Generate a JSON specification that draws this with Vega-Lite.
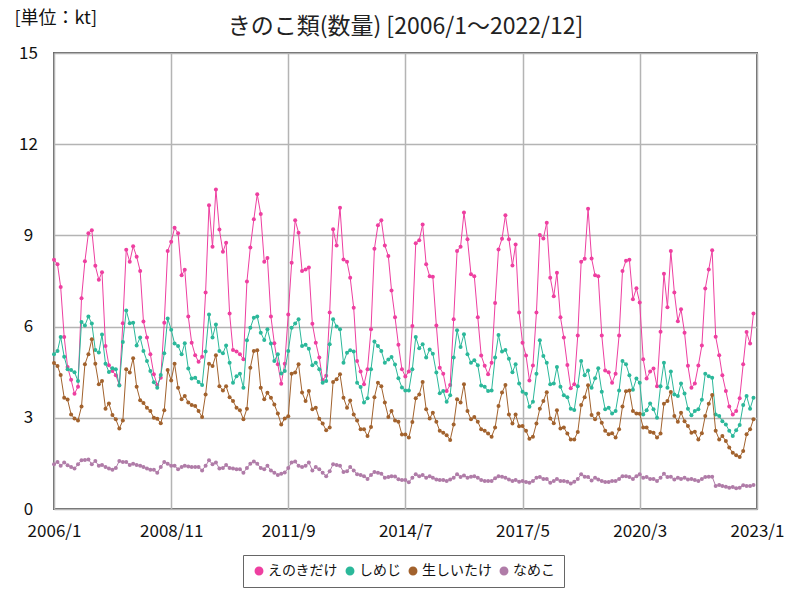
{
"$schema": "https://vega.github.io/schema/vega-lite/v6.json",
"width": 703, "height": 456,
"autosize": "none",
"padding": {"left": 54, "top": 53, "right": 43, "bottom": 91},
"background": "white",
"config": {
 "font": "Liberation Sans Narrow, Noto Sans CJK JP, sans-serif",
 "view": {"stroke": "#666666", "strokeWidth": 2},
 "axis": {"domain": false, "ticks": false, "grid": true, "gridColor": "#b4b4b4", "gridWidth": 1.5, "labelColor": "#111111", "labelFontSize": 17}
},
"title": {"text": "きのこ類(数量) [2006/1～2022/12]", "fontSize": 23, "fontWeight": "normal", "anchor": "middle", "offset": -30, "color": "#222222"},
"datasets": {
"e": [
{"m":"2006-01","v":8.2},{"m":"2006-02","v":8.05},{"m":"2006-03","v":7.3},{"m":"2006-04","v":5.66},{"m":"2006-05","v":4.67},{"m":"2006-06","v":4.25},{"m":"2006-07","v":3.79},{"m":"2006-08","v":4.02},{"m":"2006-09","v":6.93},{"m":"2006-10","v":8.15},{"m":"2006-11","v":9.07},{"m":"2006-12","v":9.17},
{"m":"2007-01","v":8.0},{"m":"2007-02","v":7.54},{"m":"2007-03","v":7.79},{"m":"2007-04","v":5.36},{"m":"2007-05","v":4.73},{"m":"2007-06","v":4.54},{"m":"2007-07","v":4.4},{"m":"2007-08","v":4.08},{"m":"2007-09","v":6.11},{"m":"2007-10","v":8.53},{"m":"2007-11","v":8.13},{"m":"2007-12","v":8.64},
{"m":"2008-01","v":8.3},{"m":"2008-02","v":7.83},{"m":"2008-03","v":6.17},{"m":"2008-04","v":5.64},{"m":"2008-05","v":5.09},{"m":"2008-06","v":4.43},{"m":"2008-07","v":4.08},{"m":"2008-08","v":4.32},{"m":"2008-09","v":6.13},{"m":"2008-10","v":8.49},{"m":"2008-11","v":8.79},{"m":"2008-12","v":9.25},
{"m":"2009-01","v":9.07},{"m":"2009-02","v":7.69},{"m":"2009-03","v":7.87},{"m":"2009-04","v":6.33},{"m":"2009-05","v":5.47},{"m":"2009-06","v":5.06},{"m":"2009-07","v":4.84},{"m":"2009-08","v":5.01},{"m":"2009-09","v":7.12},{"m":"2009-10","v":9.99},{"m":"2009-11","v":8.63},{"m":"2009-12","v":10.51},
{"m":"2010-01","v":9.19},{"m":"2010-02","v":8.46},{"m":"2010-03","v":8.76},{"m":"2010-04","v":6.43},{"m":"2010-05","v":5.23},{"m":"2010-06","v":5.18},{"m":"2010-07","v":5.09},{"m":"2010-08","v":4.93},{"m":"2010-09","v":7.48},{"m":"2010-10","v":8.6},{"m":"2010-11","v":9.53},{"m":"2010-12","v":10.35},
{"m":"2011-01","v":9.7},{"m":"2011-02","v":8.13},{"m":"2011-03","v":8.26},{"m":"2011-04","v":6.33},{"m":"2011-05","v":5.45},{"m":"2011-06","v":4.76},{"m":"2011-07","v":4.12},{"m":"2011-08","v":4.78},{"m":"2011-09","v":6.4},{"m":"2011-10","v":8.1},{"m":"2011-11","v":9.5},{"m":"2011-12","v":9.09},
{"m":"2012-01","v":7.83},{"m":"2012-02","v":7.88},{"m":"2012-03","v":7.94},{"m":"2012-04","v":6.09},{"m":"2012-05","v":5.47},{"m":"2012-06","v":4.98},{"m":"2012-07","v":4.24},{"m":"2012-08","v":4.38},{"m":"2012-09","v":6.46},{"m":"2012-10","v":9.2},{"m":"2012-11","v":8.67},{"m":"2012-12","v":9.91},
{"m":"2013-01","v":8.21},{"m":"2013-02","v":8.13},{"m":"2013-03","v":7.61},{"m":"2013-04","v":6.62},{"m":"2013-05","v":4.87},{"m":"2013-06","v":4.52},{"m":"2013-07","v":4.1},{"m":"2013-08","v":4.6},{"m":"2013-09","v":5.91},{"m":"2013-10","v":8.56},{"m":"2013-11","v":9.33},{"m":"2013-12","v":9.5},
{"m":"2014-01","v":8.67},{"m":"2014-02","v":8.32},{"m":"2014-03","v":7.19},{"m":"2014-04","v":6.31},{"m":"2014-05","v":5.4},{"m":"2014-06","v":4.6},{"m":"2014-07","v":4.36},{"m":"2014-08","v":4.52},{"m":"2014-09","v":6.02},{"m":"2014-10","v":8.74},{"m":"2014-11","v":8.84},{"m":"2014-12","v":9.36},
{"m":"2015-01","v":8.05},{"m":"2015-02","v":7.66},{"m":"2015-03","v":7.64},{"m":"2015-04","v":6.04},{"m":"2015-05","v":4.65},{"m":"2015-06","v":4.45},{"m":"2015-07","v":3.88},{"m":"2015-08","v":4.08},{"m":"2015-09","v":6.24},{"m":"2015-10","v":8.49},{"m":"2015-11","v":8.63},{"m":"2015-12","v":9.75},
{"m":"2016-01","v":8.87},{"m":"2016-02","v":7.72},{"m":"2016-03","v":7.66},{"m":"2016-04","v":6.31},{"m":"2016-05","v":5.05},{"m":"2016-06","v":4.71},{"m":"2016-07","v":4.43},{"m":"2016-08","v":4.81},{"m":"2016-09","v":6.78},{"m":"2016-10","v":8.54},{"m":"2016-11","v":8.89},{"m":"2016-12","v":9.66},
{"m":"2017-01","v":8.87},{"m":"2017-02","v":8.01},{"m":"2017-03","v":8.7},{"m":"2017-04","v":6.46},{"m":"2017-05","v":5.47},{"m":"2017-06","v":5.05},{"m":"2017-07","v":4.23},{"m":"2017-08","v":4.72},{"m":"2017-09","v":6.46},{"m":"2017-10","v":9.01},{"m":"2017-11","v":8.9},{"m":"2017-12","v":9.42},
{"m":"2018-01","v":7.61},{"m":"2018-02","v":7.0},{"m":"2018-03","v":7.77},{"m":"2018-04","v":6.31},{"m":"2018-05","v":5.64},{"m":"2018-06","v":4.74},{"m":"2018-07","v":3.97},{"m":"2018-08","v":4.1},{"m":"2018-09","v":5.71},{"m":"2018-10","v":8.13},{"m":"2018-11","v":8.23},{"m":"2018-12","v":9.88},
{"m":"2019-01","v":8.24},{"m":"2019-02","v":7.69},{"m":"2019-03","v":7.66},{"m":"2019-04","v":5.71},{"m":"2019-05","v":4.56},{"m":"2019-06","v":4.5},{"m":"2019-07","v":4.15},{"m":"2019-08","v":4.45},{"m":"2019-09","v":5.71},{"m":"2019-10","v":7.83},{"m":"2019-11","v":8.17},{"m":"2019-12","v":8.2},
{"m":"2020-01","v":6.9},{"m":"2020-02","v":7.26},{"m":"2020-03","v":6.79},{"m":"2020-04","v":4.93},{"m":"2020-05","v":4.29},{"m":"2020-06","v":4.52},{"m":"2020-07","v":4.62},{"m":"2020-08","v":4.04},{"m":"2020-09","v":5.83},{"m":"2020-10","v":7.74},{"m":"2020-11","v":6.64},{"m":"2020-12","v":8.49},
{"m":"2021-01","v":7.12},{"m":"2021-02","v":6.18},{"m":"2021-03","v":6.57},{"m":"2021-04","v":5.8},{"m":"2021-05","v":4.71},{"m":"2021-06","v":3.99},{"m":"2021-07","v":4.13},{"m":"2021-08","v":4.72},{"m":"2021-09","v":5.38},{"m":"2021-10","v":7.25},{"m":"2021-11","v":7.88},{"m":"2021-12","v":8.51},
{"m":"2022-01","v":5.67},{"m":"2022-02","v":5.06},{"m":"2022-03","v":4.4},{"m":"2022-04","v":3.88},{"m":"2022-05","v":3.37},{"m":"2022-06","v":3.11},{"m":"2022-07","v":3.22},{"m":"2022-08","v":3.64},{"m":"2022-09","v":4.76},{"m":"2022-10","v":5.82},{"m":"2022-11","v":5.44},{"m":"2022-12","v":6.43}
],
"s": [
{"m":"2006-01","v":5.09},{"m":"2006-02","v":5.2},{"m":"2006-03","v":5.66},{"m":"2006-04","v":5.01},{"m":"2006-05","v":4.6},{"m":"2006-06","v":4.57},{"m":"2006-07","v":4.5},{"m":"2006-08","v":4.21},{"m":"2006-09","v":6.15},{"m":"2006-10","v":6.04},{"m":"2006-11","v":6.33},{"m":"2006-12","v":6.1},
{"m":"2007-01","v":5.23},{"m":"2007-02","v":5.15},{"m":"2007-03","v":5.74},{"m":"2007-04","v":4.78},{"m":"2007-05","v":4.51},{"m":"2007-06","v":4.63},{"m":"2007-07","v":4.6},{"m":"2007-08","v":4.06},{"m":"2007-09","v":5.49},{"m":"2007-10","v":6.53},{"m":"2007-11","v":6.11},{"m":"2007-12","v":6.13},
{"m":"2008-01","v":5.38},{"m":"2008-02","v":5.64},{"m":"2008-03","v":5.2},{"m":"2008-04","v":4.87},{"m":"2008-05","v":4.54},{"m":"2008-06","v":4.17},{"m":"2008-07","v":3.99},{"m":"2008-08","v":4.41},{"m":"2008-09","v":5.12},{"m":"2008-10","v":6.27},{"m":"2008-11","v":5.9},{"m":"2008-12","v":5.44},
{"m":"2009-01","v":5.36},{"m":"2009-02","v":5.09},{"m":"2009-03","v":5.45},{"m":"2009-04","v":4.62},{"m":"2009-05","v":4.29},{"m":"2009-06","v":4.32},{"m":"2009-07","v":4.18},{"m":"2009-08","v":4.08},{"m":"2009-09","v":5.18},{"m":"2009-10","v":6.4},{"m":"2009-11","v":5.64},{"m":"2009-12","v":6.07},
{"m":"2010-01","v":5.2},{"m":"2010-02","v":5.12},{"m":"2010-03","v":5.38},{"m":"2010-04","v":4.81},{"m":"2010-05","v":4.15},{"m":"2010-06","v":4.37},{"m":"2010-07","v":4.45},{"m":"2010-08","v":3.99},{"m":"2010-09","v":5.55},{"m":"2010-10","v":5.96},{"m":"2010-11","v":6.29},{"m":"2010-12","v":6.33},
{"m":"2011-01","v":5.8},{"m":"2011-02","v":5.56},{"m":"2011-03","v":5.91},{"m":"2011-04","v":5.44},{"m":"2011-05","v":4.87},{"m":"2011-06","v":5.09},{"m":"2011-07","v":4.46},{"m":"2011-08","v":4.54},{"m":"2011-09","v":5.2},{"m":"2011-10","v":5.96},{"m":"2011-11","v":6.1},{"m":"2011-12","v":6.24},
{"m":"2012-01","v":5.36},{"m":"2012-02","v":5.4},{"m":"2012-03","v":5.27},{"m":"2012-04","v":4.73},{"m":"2012-05","v":4.81},{"m":"2012-06","v":4.6},{"m":"2012-07","v":4.15},{"m":"2012-08","v":4.21},{"m":"2012-09","v":5.42},{"m":"2012-10","v":6.24},{"m":"2012-11","v":6.0},{"m":"2012-12","v":5.91},
{"m":"2013-01","v":4.81},{"m":"2013-02","v":5.14},{"m":"2013-03","v":5.22},{"m":"2013-04","v":5.18},{"m":"2013-05","v":4.15},{"m":"2013-06","v":4.01},{"m":"2013-07","v":3.5},{"m":"2013-08","v":3.64},{"m":"2013-09","v":4.6},{"m":"2013-10","v":5.51},{"m":"2013-11","v":5.36},{"m":"2013-12","v":5.2},
{"m":"2014-01","v":4.81},{"m":"2014-02","v":4.92},{"m":"2014-03","v":5.0},{"m":"2014-04","v":4.75},{"m":"2014-05","v":4.3},{"m":"2014-06","v":4.0},{"m":"2014-07","v":3.9},{"m":"2014-08","v":3.9},{"m":"2014-09","v":4.6},{"m":"2014-10","v":5.66},{"m":"2014-11","v":5.29},{"m":"2014-12","v":5.42},
{"m":"2015-01","v":4.98},{"m":"2015-02","v":5.25},{"m":"2015-03","v":5.11},{"m":"2015-04","v":4.49},{"m":"2015-05","v":3.81},{"m":"2015-06","v":3.88},{"m":"2015-07","v":3.53},{"m":"2015-08","v":3.74},{"m":"2015-09","v":4.98},{"m":"2015-10","v":5.88},{"m":"2015-11","v":5.33},{"m":"2015-12","v":5.75},
{"m":"2016-01","v":5.09},{"m":"2016-02","v":4.81},{"m":"2016-03","v":4.89},{"m":"2016-04","v":4.73},{"m":"2016-05","v":4.06},{"m":"2016-06","v":4.02},{"m":"2016-07","v":3.88},{"m":"2016-08","v":3.9},{"m":"2016-09","v":4.98},{"m":"2016-10","v":5.72},{"m":"2016-11","v":5.18},{"m":"2016-12","v":5.23},
{"m":"2017-01","v":4.94},{"m":"2017-02","v":4.5},{"m":"2017-03","v":4.76},{"m":"2017-04","v":4.13},{"m":"2017-05","v":3.86},{"m":"2017-06","v":3.79},{"m":"2017-07","v":3.36},{"m":"2017-08","v":3.53},{"m":"2017-09","v":4.45},{"m":"2017-10","v":5.55},{"m":"2017-11","v":5.03},{"m":"2017-12","v":4.81},
{"m":"2018-01","v":4.1},{"m":"2018-02","v":4.13},{"m":"2018-03","v":4.67},{"m":"2018-04","v":4.02},{"m":"2018-05","v":3.74},{"m":"2018-06","v":3.68},{"m":"2018-07","v":3.3},{"m":"2018-08","v":3.26},{"m":"2018-09","v":4.04},{"m":"2018-10","v":4.87},{"m":"2018-11","v":4.4},{"m":"2018-12","v":4.56},
{"m":"2019-01","v":3.99},{"m":"2019-02","v":4.3},{"m":"2019-03","v":4.63},{"m":"2019-04","v":3.86},{"m":"2019-05","v":3.28},{"m":"2019-06","v":3.33},{"m":"2019-07","v":3.14},{"m":"2019-08","v":3.22},{"m":"2019-09","v":3.9},{"m":"2019-10","v":4.87},{"m":"2019-11","v":4.76},{"m":"2019-12","v":4.4},
{"m":"2020-01","v":3.92},{"m":"2020-02","v":4.29},{"m":"2020-03","v":4.15},{"m":"2020-04","v":3.11},{"m":"2020-05","v":3.25},{"m":"2020-06","v":3.47},{"m":"2020-07","v":3.28},{"m":"2020-08","v":3.0},{"m":"2020-09","v":4.04},{"m":"2020-10","v":4.81},{"m":"2020-11","v":3.99},{"m":"2020-12","v":4.52},
{"m":"2021-01","v":3.77},{"m":"2021-02","v":3.72},{"m":"2021-03","v":4.13},{"m":"2021-04","v":3.8},{"m":"2021-05","v":3.3},{"m":"2021-06","v":3.08},{"m":"2021-07","v":3.22},{"m":"2021-08","v":3.28},{"m":"2021-09","v":3.59},{"m":"2021-10","v":4.45},{"m":"2021-11","v":4.37},{"m":"2021-12","v":4.32},
{"m":"2022-01","v":3.11},{"m":"2022-02","v":3.06},{"m":"2022-03","v":2.89},{"m":"2022-04","v":2.78},{"m":"2022-05","v":2.57},{"m":"2022-06","v":2.4},{"m":"2022-07","v":2.59},{"m":"2022-08","v":2.76},{"m":"2022-09","v":3.42},{"m":"2022-10","v":3.72},{"m":"2022-11","v":3.3},{"m":"2022-12","v":3.66}
],
"b": [
{"m":"2006-01","v":4.8},{"m":"2006-02","v":4.7},{"m":"2006-03","v":4.41},{"m":"2006-04","v":3.66},{"m":"2006-05","v":3.6},{"m":"2006-06","v":3.11},{"m":"2006-07","v":2.98},{"m":"2006-08","v":2.91},{"m":"2006-09","v":3.37},{"m":"2006-10","v":4.76},{"m":"2006-11","v":5.09},{"m":"2006-12","v":5.58},
{"m":"2007-01","v":4.78},{"m":"2007-02","v":4.1},{"m":"2007-03","v":4.21},{"m":"2007-04","v":3.3},{"m":"2007-05","v":3.47},{"m":"2007-06","v":3.09},{"m":"2007-07","v":2.95},{"m":"2007-08","v":2.65},{"m":"2007-09","v":2.91},{"m":"2007-10","v":4.6},{"m":"2007-11","v":4.49},{"m":"2007-12","v":4.96},
{"m":"2008-01","v":4.02},{"m":"2008-02","v":3.58},{"m":"2008-03","v":3.49},{"m":"2008-04","v":3.33},{"m":"2008-05","v":3.22},{"m":"2008-06","v":3.0},{"m":"2008-07","v":2.97},{"m":"2008-08","v":2.82},{"m":"2008-09","v":3.25},{"m":"2008-10","v":4.57},{"m":"2008-11","v":4.23},{"m":"2008-12","v":4.78},
{"m":"2009-01","v":3.99},{"m":"2009-02","v":3.61},{"m":"2009-03","v":3.72},{"m":"2009-04","v":3.5},{"m":"2009-05","v":3.42},{"m":"2009-06","v":3.39},{"m":"2009-07","v":3.22},{"m":"2009-08","v":3.03},{"m":"2009-09","v":3.77},{"m":"2009-10","v":4.78},{"m":"2009-11","v":4.7},{"m":"2009-12","v":5.06},
{"m":"2010-01","v":4.04},{"m":"2010-02","v":3.9},{"m":"2010-03","v":4.04},{"m":"2010-04","v":3.68},{"m":"2010-05","v":3.55},{"m":"2010-06","v":3.33},{"m":"2010-07","v":3.25},{"m":"2010-08","v":2.95},{"m":"2010-09","v":3.3},{"m":"2010-10","v":4.65},{"m":"2010-11","v":5.2},{"m":"2010-12","v":5.22},
{"m":"2011-01","v":3.99},{"m":"2011-02","v":3.61},{"m":"2011-03","v":3.82},{"m":"2011-04","v":3.66},{"m":"2011-05","v":3.44},{"m":"2011-06","v":3.14},{"m":"2011-07","v":2.78},{"m":"2011-08","v":2.98},{"m":"2011-09","v":3.05},{"m":"2011-10","v":4.45},{"m":"2011-11","v":4.49},{"m":"2011-12","v":4.76},
{"m":"2012-01","v":3.83},{"m":"2012-02","v":3.55},{"m":"2012-03","v":3.88},{"m":"2012-04","v":3.28},{"m":"2012-05","v":3.33},{"m":"2012-06","v":2.97},{"m":"2012-07","v":2.81},{"m":"2012-08","v":2.59},{"m":"2012-09","v":2.68},{"m":"2012-10","v":4.18},{"m":"2012-11","v":4.27},{"m":"2012-12","v":4.43},
{"m":"2013-01","v":3.66},{"m":"2013-02","v":3.33},{"m":"2013-03","v":3.57},{"m":"2013-04","v":3.11},{"m":"2013-05","v":2.91},{"m":"2013-06","v":2.62},{"m":"2013-07","v":2.62},{"m":"2013-08","v":2.4},{"m":"2013-09","v":2.7},{"m":"2013-10","v":3.68},{"m":"2013-11","v":4.15},{"m":"2013-12","v":4.04},
{"m":"2014-01","v":3.5},{"m":"2014-02","v":3.03},{"m":"2014-03","v":3.22},{"m":"2014-04","v":2.91},{"m":"2014-05","v":2.87},{"m":"2014-06","v":2.45},{"m":"2014-07","v":2.45},{"m":"2014-08","v":2.35},{"m":"2014-09","v":2.86},{"m":"2014-10","v":3.64},{"m":"2014-11","v":3.77},{"m":"2014-12","v":4.18},
{"m":"2015-01","v":3.28},{"m":"2015-02","v":2.98},{"m":"2015-03","v":3.17},{"m":"2015-04","v":2.87},{"m":"2015-05","v":2.57},{"m":"2015-06","v":2.51},{"m":"2015-07","v":2.43},{"m":"2015-08","v":2.27},{"m":"2015-09","v":2.78},{"m":"2015-10","v":3.61},{"m":"2015-11","v":3.5},{"m":"2015-12","v":4.1},
{"m":"2016-01","v":3.22},{"m":"2016-02","v":2.95},{"m":"2016-03","v":3.03},{"m":"2016-04","v":2.87},{"m":"2016-05","v":2.62},{"m":"2016-06","v":2.57},{"m":"2016-07","v":2.48},{"m":"2016-08","v":2.38},{"m":"2016-09","v":2.68},{"m":"2016-10","v":3.39},{"m":"2016-11","v":3.83},{"m":"2016-12","v":4.08},
{"m":"2017-01","v":3.11},{"m":"2017-02","v":2.81},{"m":"2017-03","v":3.11},{"m":"2017-04","v":2.72},{"m":"2017-05","v":2.73},{"m":"2017-06","v":2.57},{"m":"2017-07","v":2.31},{"m":"2017-08","v":2.38},{"m":"2017-09","v":2.81},{"m":"2017-10","v":3.3},{"m":"2017-11","v":3.55},{"m":"2017-12","v":3.84},
{"m":"2018-01","v":2.98},{"m":"2018-02","v":2.82},{"m":"2018-03","v":3.25},{"m":"2018-04","v":2.65},{"m":"2018-05","v":2.68},{"m":"2018-06","v":2.48},{"m":"2018-07","v":2.29},{"m":"2018-08","v":2.29},{"m":"2018-09","v":2.53},{"m":"2018-10","v":3.42},{"m":"2018-11","v":3.68},{"m":"2018-12","v":4.07},
{"m":"2019-01","v":3.09},{"m":"2019-02","v":2.95},{"m":"2019-03","v":3.14},{"m":"2019-04","v":2.84},{"m":"2019-05","v":2.57},{"m":"2019-06","v":2.46},{"m":"2019-07","v":2.49},{"m":"2019-08","v":2.35},{"m":"2019-09","v":2.62},{"m":"2019-10","v":3.37},{"m":"2019-11","v":3.87},{"m":"2019-12","v":3.9},
{"m":"2020-01","v":3.22},{"m":"2020-02","v":3.14},{"m":"2020-03","v":3.13},{"m":"2020-04","v":2.68},{"m":"2020-05","v":2.68},{"m":"2020-06","v":2.53},{"m":"2020-07","v":2.51},{"m":"2020-08","v":2.35},{"m":"2020-09","v":2.48},{"m":"2020-10","v":3.46},{"m":"2020-11","v":3.55},{"m":"2020-12","v":3.85},
{"m":"2021-01","v":3.06},{"m":"2021-02","v":2.87},{"m":"2021-03","v":3.17},{"m":"2021-04","v":2.89},{"m":"2021-05","v":2.73},{"m":"2021-06","v":2.51},{"m":"2021-07","v":2.54},{"m":"2021-08","v":2.29},{"m":"2021-09","v":2.49},{"m":"2021-10","v":3.06},{"m":"2021-11","v":3.46},{"m":"2021-12","v":3.75},
{"m":"2022-01","v":2.57},{"m":"2022-02","v":2.29},{"m":"2022-03","v":2.4},{"m":"2022-04","v":2.24},{"m":"2022-05","v":2.02},{"m":"2022-06","v":1.85},{"m":"2022-07","v":1.77},{"m":"2022-08","v":1.71},{"m":"2022-09","v":1.91},{"m":"2022-10","v":2.46},{"m":"2022-11","v":2.62},{"m":"2022-12","v":2.95}
],
"n": [
{"m":"2006-01","v":1.47},{"m":"2006-02","v":1.55},{"m":"2006-03","v":1.42},{"m":"2006-04","v":1.53},{"m":"2006-05","v":1.44},{"m":"2006-06","v":1.38},{"m":"2006-07","v":1.33},{"m":"2006-08","v":1.47},{"m":"2006-09","v":1.6},{"m":"2006-10","v":1.61},{"m":"2006-11","v":1.63},{"m":"2006-12","v":1.47},
{"m":"2007-01","v":1.58},{"m":"2007-02","v":1.42},{"m":"2007-03","v":1.45},{"m":"2007-04","v":1.38},{"m":"2007-05","v":1.33},{"m":"2007-06","v":1.29},{"m":"2007-07","v":1.35},{"m":"2007-08","v":1.58},{"m":"2007-09","v":1.55},{"m":"2007-10","v":1.55},{"m":"2007-11","v":1.45},{"m":"2007-12","v":1.49},
{"m":"2008-01","v":1.45},{"m":"2008-02","v":1.42},{"m":"2008-03","v":1.38},{"m":"2008-04","v":1.33},{"m":"2008-05","v":1.29},{"m":"2008-06","v":1.29},{"m":"2008-07","v":1.19},{"m":"2008-08","v":1.38},{"m":"2008-09","v":1.55},{"m":"2008-10","v":1.49},{"m":"2008-11","v":1.42},{"m":"2008-12","v":1.42},
{"m":"2009-01","v":1.31},{"m":"2009-02","v":1.38},{"m":"2009-03","v":1.42},{"m":"2009-04","v":1.4},{"m":"2009-05","v":1.38},{"m":"2009-06","v":1.38},{"m":"2009-07","v":1.38},{"m":"2009-08","v":1.27},{"m":"2009-09","v":1.42},{"m":"2009-10","v":1.6},{"m":"2009-11","v":1.47},{"m":"2009-12","v":1.53},
{"m":"2010-01","v":1.33},{"m":"2010-02","v":1.35},{"m":"2010-03","v":1.45},{"m":"2010-04","v":1.35},{"m":"2010-05","v":1.33},{"m":"2010-06","v":1.31},{"m":"2010-07","v":1.31},{"m":"2010-08","v":1.19},{"m":"2010-09","v":1.35},{"m":"2010-10","v":1.49},{"m":"2010-11","v":1.56},{"m":"2010-12","v":1.49},
{"m":"2011-01","v":1.35},{"m":"2011-02","v":1.31},{"m":"2011-03","v":1.42},{"m":"2011-04","v":1.27},{"m":"2011-05","v":1.19},{"m":"2011-06","v":1.12},{"m":"2011-07","v":1.16},{"m":"2011-08","v":1.2},{"m":"2011-09","v":1.35},{"m":"2011-10","v":1.53},{"m":"2011-11","v":1.56},{"m":"2011-12","v":1.42},
{"m":"2012-01","v":1.38},{"m":"2012-02","v":1.42},{"m":"2012-03","v":1.53},{"m":"2012-04","v":1.27},{"m":"2012-05","v":1.38},{"m":"2012-06","v":1.31},{"m":"2012-07","v":1.19},{"m":"2012-08","v":1.08},{"m":"2012-09","v":1.24},{"m":"2012-10","v":1.47},{"m":"2012-11","v":1.45},{"m":"2012-12","v":1.42},
{"m":"2013-01","v":1.22},{"m":"2013-02","v":1.24},{"m":"2013-03","v":1.38},{"m":"2013-04","v":1.27},{"m":"2013-05","v":1.14},{"m":"2013-06","v":1.12},{"m":"2013-07","v":1.08},{"m":"2013-08","v":0.99},{"m":"2013-09","v":1.12},{"m":"2013-10","v":1.22},{"m":"2013-11","v":1.19},{"m":"2013-12","v":1.16},
{"m":"2014-01","v":1.03},{"m":"2014-02","v":1.05},{"m":"2014-03","v":1.08},{"m":"2014-04","v":1.07},{"m":"2014-05","v":0.98},{"m":"2014-06","v":0.95},{"m":"2014-07","v":0.95},{"m":"2014-08","v":0.88},{"m":"2014-09","v":1.03},{"m":"2014-10","v":1.14},{"m":"2014-11","v":1.08},{"m":"2014-12","v":1.12},
{"m":"2015-01","v":1.03},{"m":"2015-02","v":1.08},{"m":"2015-03","v":1.03},{"m":"2015-04","v":0.97},{"m":"2015-05","v":0.95},{"m":"2015-06","v":0.95},{"m":"2015-07","v":0.92},{"m":"2015-08","v":0.97},{"m":"2015-09","v":1.03},{"m":"2015-10","v":1.14},{"m":"2015-11","v":1.05},{"m":"2015-12","v":1.1},
{"m":"2016-01","v":1.03},{"m":"2016-02","v":1.06},{"m":"2016-03","v":1.08},{"m":"2016-04","v":1.03},{"m":"2016-05","v":0.95},{"m":"2016-06","v":0.92},{"m":"2016-07","v":0.92},{"m":"2016-08","v":0.92},{"m":"2016-09","v":1.01},{"m":"2016-10","v":1.08},{"m":"2016-11","v":1.06},{"m":"2016-12","v":1.03},
{"m":"2017-01","v":0.97},{"m":"2017-02","v":0.92},{"m":"2017-03","v":0.95},{"m":"2017-04","v":0.9},{"m":"2017-05","v":0.92},{"m":"2017-06","v":0.89},{"m":"2017-07","v":0.86},{"m":"2017-08","v":0.92},{"m":"2017-09","v":1.03},{"m":"2017-10","v":1.05},{"m":"2017-11","v":0.99},{"m":"2017-12","v":0.99},
{"m":"2018-01","v":0.86},{"m":"2018-02","v":0.92},{"m":"2018-03","v":0.99},{"m":"2018-04","v":0.92},{"m":"2018-05","v":0.92},{"m":"2018-06","v":0.9},{"m":"2018-07","v":0.84},{"m":"2018-08","v":0.9},{"m":"2018-09","v":0.99},{"m":"2018-10","v":1.14},{"m":"2018-11","v":1.06},{"m":"2018-12","v":1.05},
{"m":"2019-01","v":0.94},{"m":"2019-02","v":1.03},{"m":"2019-03","v":0.97},{"m":"2019-04","v":0.92},{"m":"2019-05","v":0.89},{"m":"2019-06","v":0.89},{"m":"2019-07","v":0.92},{"m":"2019-08","v":0.92},{"m":"2019-09","v":0.99},{"m":"2019-10","v":1.08},{"m":"2019-11","v":1.08},{"m":"2019-12","v":1.05},
{"m":"2020-01","v":0.99},{"m":"2020-02","v":1.08},{"m":"2020-03","v":1.14},{"m":"2020-04","v":1.03},{"m":"2020-05","v":1.05},{"m":"2020-06","v":0.99},{"m":"2020-07","v":0.99},{"m":"2020-08","v":0.92},{"m":"2020-09","v":1.03},{"m":"2020-10","v":1.16},{"m":"2020-11","v":1.05},{"m":"2020-12","v":1.06},
{"m":"2021-01","v":0.97},{"m":"2021-02","v":1.03},{"m":"2021-03","v":0.99},{"m":"2021-04","v":1.03},{"m":"2021-05","v":0.97},{"m":"2021-06","v":0.99},{"m":"2021-07","v":0.95},{"m":"2021-08","v":0.92},{"m":"2021-09","v":0.99},{"m":"2021-10","v":1.05},{"m":"2021-11","v":1.06},{"m":"2021-12","v":1.06},
{"m":"2022-01","v":0.76},{"m":"2022-02","v":0.79},{"m":"2022-03","v":0.76},{"m":"2022-04","v":0.73},{"m":"2022-05","v":0.7},{"m":"2022-06","v":0.72},{"m":"2022-07","v":0.68},{"m":"2022-08","v":0.7},{"m":"2022-09","v":0.78},{"m":"2022-10","v":0.76},{"m":"2022-11","v":0.76},{"m":"2022-12","v":0.79}
]
},
"encoding": {
 "x": {"field": "m", "type": "temporal",
  "scale": {"type": "utc", "domain": [{"year": 2006, "month": 1, "date": 1, "utc": true}, {"year": 2023, "month": 1, "date": 1, "utc": true}]},
  "axis": {"title": null, "values": [{"year": 2006, "month": 1, "date": 1, "utc": true}, {"year": 2008, "month": 11, "date": 1, "utc": true}, {"year": 2011, "month": 9, "date": 1, "utc": true}, {"year": 2014, "month": 7, "date": 1, "utc": true}, {"year": 2017, "month": 5, "date": 1, "utc": true}, {"year": 2020, "month": 3, "date": 1, "utc": true}, {"year": 2023, "month": 1, "date": 1, "utc": true}],
   "labelExpr": "utcFormat(datum.value, '%Y') + '/' + (utcmonth(datum.value) + 1)",
   "labelOverlap": false, "labelFlush": false, "labelBound": false, "labelPadding": 14}},
 "y": {"field": "v", "type": "quantitative",
  "scale": {"domain": [0, 15], "nice": false, "zero": true},
  "axis": {"values": [0, 3, 6, 9, 12, 15], "labelAlign": "center", "labelPadding": 26,
   "title": "[単位：kt]", "titleAngle": 0, "titleFontSize": 18, "titleFontWeight": "normal", "titleColor": "#111111", "titleAlign": "left", "titleBaseline": "middle", "titleX": -40, "titleY": -35}}
},
"layer": [
 {"data": {"name": "e"}, "mark": {"type": "line", "strokeWidth": 1, "point": {"filled": true, "size": 16}},
  "encoding": {"color": {"datum": "えのきだけ", "type": "nominal",
   "scale": {"domain": ["えのきだけ", "しめじ", "生しいたけ", "なめこ"], "range": ["#ee3fa0", "#2bb89a", "#a2622d", "#b07ca8"]},
   "legend": {"orient": "none", "legendX": 189, "legendY": 502, "direction": "horizontal", "title": null, "symbolType": "circle", "symbolSize": 55, "labelFontSize": 14, "labelColor": "#111111", "strokeColor": "#666666", "padding": 9, "columnPadding": 5, "labelOffset": 2, "symbolOffset": 0}}}},
 {"data": {"name": "s"}, "mark": {"type": "line", "strokeWidth": 1, "point": {"filled": true, "size": 16}},
  "encoding": {"color": {"datum": "しめじ", "type": "nominal"}}},
 {"data": {"name": "b"}, "mark": {"type": "line", "strokeWidth": 1, "point": {"filled": true, "size": 16}},
  "encoding": {"color": {"datum": "生しいたけ", "type": "nominal"}}},
 {"data": {"name": "n"}, "mark": {"type": "line", "strokeWidth": 1, "point": {"filled": true, "size": 16}},
  "encoding": {"color": {"datum": "なめこ", "type": "nominal"}}}
]
}
